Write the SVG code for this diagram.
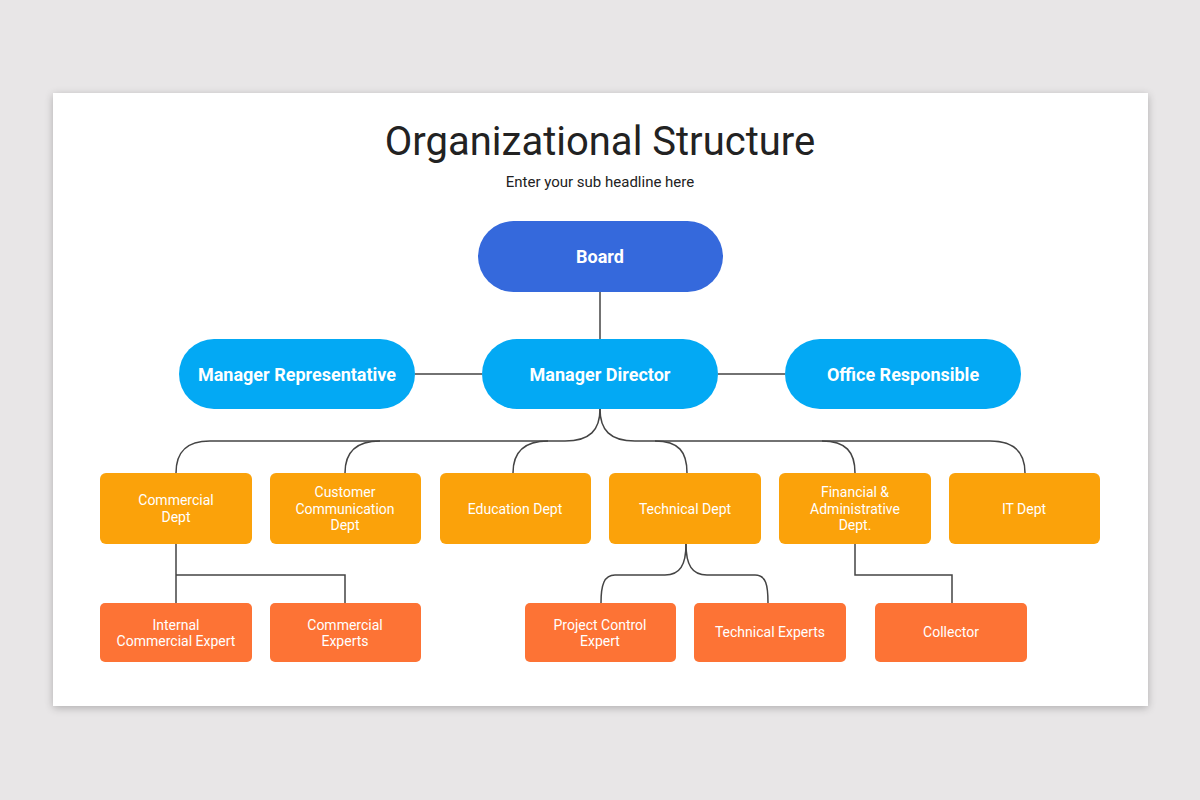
<svg xmlns="http://www.w3.org/2000/svg" width="1200" height="800" viewBox="0 0 1200 800">
<defs>
<filter id="sh" x="-5%" y="-5%" width="110%" height="112%">
<feGaussianBlur in="SourceAlpha" stdDeviation="4"/>
<feOffset dx="0" dy="2"/>
<feComponentTransfer><feFuncA type="linear" slope="0.25"/></feComponentTransfer>
<feMerge><feMergeNode/><feMergeNode in="SourceGraphic"/></feMerge>
</filter>
</defs>
<style>
.t{font-family:Roboto,"Liberation Sans",sans-serif;fill:#fff;text-anchor:middle}
.b{font-weight:bold;font-size:18px}
.s{font-size:14px}
.blue1{fill:#3569dc}
.blue2{fill:#03a9f4}
.or{fill:#fba20a}
.rd{fill:#fd7335}
.c{fill:none;stroke:#444;stroke-width:1.5}
</style>
<rect width="1200" height="800" fill="#e8e6e7"/>
<rect x="53" y="93" width="1095" height="613" fill="#fff" filter="url(#sh)"/>
<text x="600" y="155" font-family="Roboto,'Liberation Sans',sans-serif" font-size="40" fill="#222" text-anchor="middle">Organizational Structure</text>
<text x="600" y="187" font-family="Roboto,'Liberation Sans',sans-serif" font-size="15" fill="#222" text-anchor="middle">Enter your sub headline here</text>
<g id="connectors">
<path class="c" d="M600 292V339"/>
<path class="c" d="M415 374H482M718 374H785"/>
<path class="c" d="M600 409C600 430 590 441 565 441H210C186 441 176 452 176 473"/>
<path class="c" d="M380 441C356 441 345 452 345 473"/>
<path class="c" d="M548 441C524 441 513 452 513 473"/>
<path class="c" d="M600 409C600 430 610 441 635 441H990C1014 441 1025 452 1025 473"/>
<path class="c" d="M655 441C679 441 687 452 687 473"/>
<path class="c" d="M822 441C846 441 855 452 855 473"/>
<path class="c" d="M176 544V603M176 575H345V603"/>
<path class="c" d="M686 544C686 565 680 575 665 575H615C604 575 601 585 601 603"/>
<path class="c" d="M686 544C686 565 692 575 707 575H755C766 575 768 585 768 603"/>
<path class="c" d="M855 544V575H952V603"/>
</g>
<g id="board"><rect class="blue1" x="478" y="221" width="245" height="71" rx="35.5"/><text class="t b" x="600" y="263">Board</text></g>
<g id="manager-director"><rect class="blue2" x="482" y="339" width="236" height="70" rx="35"/><text class="t b" x="600" y="381">Manager Director</text></g>
<g id="manager-representative"><rect class="blue2" x="179" y="339" width="236" height="70" rx="35"/><text class="t b" x="297" y="381">Manager Representative</text></g>
<g id="office-responsible"><rect class="blue2" x="785" y="339" width="236" height="70" rx="35"/><text class="t b" x="903" y="381">Office Responsible</text></g>
<g id="commercial-dept"><rect class="or" x="100" y="473" width="152" height="71" rx="6"/><text class="t s" x="176" y="505">Commercial</text><text class="t s" x="176" y="522">Dept</text></g>
<g id="customer-communication-dept"><rect class="or" x="270" y="473" width="151" height="71" rx="6"/><text class="t s" x="345" y="497">Customer</text><text class="t s" x="345" y="514">Communication</text><text class="t s" x="345" y="530">Dept</text></g>
<g id="education-dept"><rect class="or" x="440" y="473" width="151" height="71" rx="6"/><text class="t s" x="515" y="514">Education Dept</text></g>
<g id="technical-dept"><rect class="or" x="609" y="473" width="152" height="71" rx="6"/><text class="t s" x="685" y="514">Technical Dept</text></g>
<g id="financial-dept"><rect class="or" x="779" y="473" width="152" height="71" rx="6"/><text class="t s" x="855" y="497">Financial &amp;</text><text class="t s" x="855" y="514">Administrative</text><text class="t s" x="855" y="530">Dept.</text></g>
<g id="it-dept"><rect class="or" x="949" y="473" width="151" height="71" rx="6"/><text class="t s" x="1024" y="514">IT Dept</text></g>
<g id="internal-commercial-expert"><rect class="rd" x="100" y="603" width="152" height="59" rx="5"/><text class="t s" x="176" y="630">Internal</text><text class="t s" x="176" y="646">Commercial Expert</text></g>
<g id="commercial-experts"><rect class="rd" x="270" y="603" width="151" height="59" rx="5"/><text class="t s" x="345" y="630">Commercial</text><text class="t s" x="345" y="646">Experts</text></g>
<g id="project-control-expert"><rect class="rd" x="525" y="603" width="151" height="59" rx="5"/><text class="t s" x="600" y="630">Project Control</text><text class="t s" x="600" y="646">Expert</text></g>
<g id="technical-experts"><rect class="rd" x="694" y="603" width="152" height="59" rx="5"/><text class="t s" x="770" y="637">Technical Experts</text></g>
<g id="collector"><rect class="rd" x="875" y="603" width="152" height="59" rx="5"/><text class="t s" x="951" y="637">Collector</text></g>
</svg>
